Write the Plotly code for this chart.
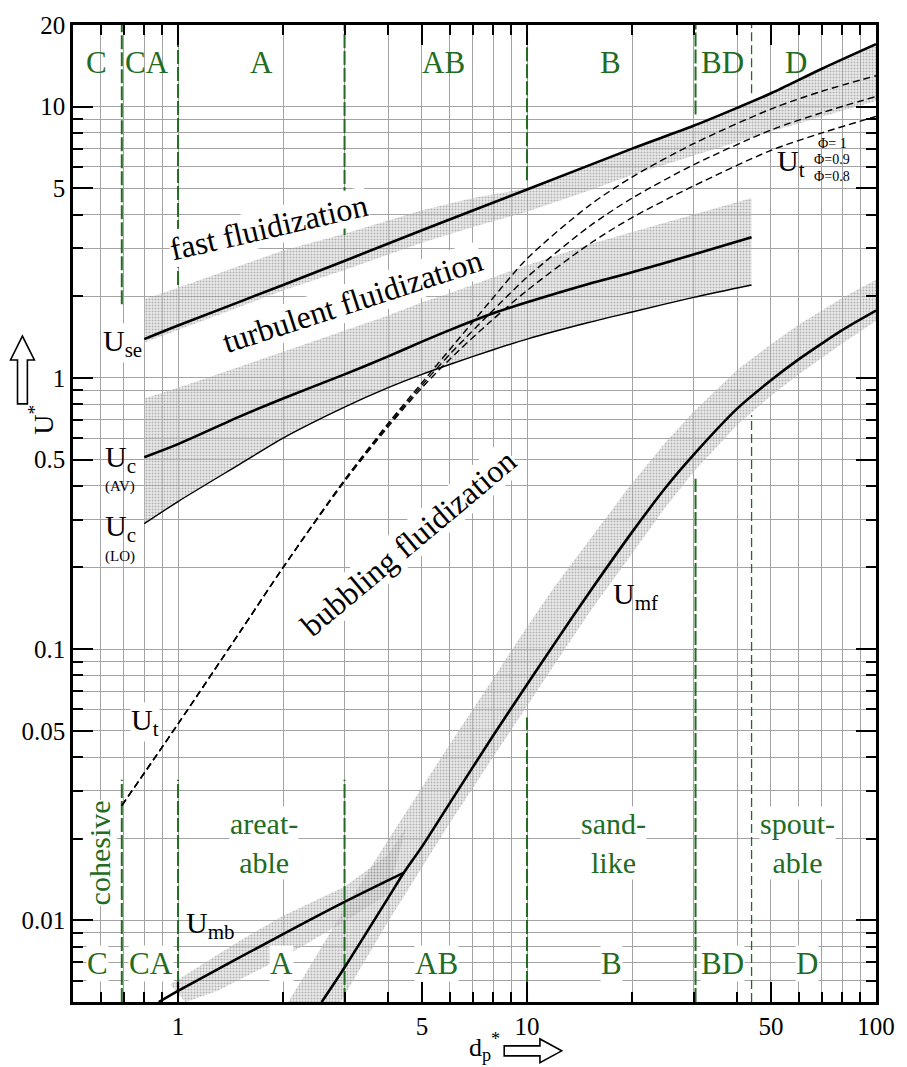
import math
import plotly.graph_objects as go

# ---------------- data ----------------
# fast-fluidization boundary U_se
use_x = [0.8, 1, 2, 5, 10, 20, 30, 40, 50, 70, 100]
use_y = [1.39, 1.56, 2.2, 3.5, 4.95, 7.0, 8.5, 9.9, 11.2, 13.8, 17.0]
use_band_up_x = [0.8, 1, 2, 3, 5, 7, 10, 20, 40, 100]
use_band_up = [1.95, 2.15, 2.95, 3.4, 4.15, 4.6, 5.0, 7.0, 9.9, 17.0]
use_band_lo_x = [0.8, 1, 2, 3, 5, 7, 10, 15, 20, 30, 40, 50, 70, 100]
use_band_lo = [1.35, 1.5, 2.1, 2.5, 3.15, 3.6, 4.1, 4.9, 5.6, 6.6, 7.4, 8.1, 9.2, 10.5]

# turbulent-fluidization onset U_c (average and lower bound) and band top
uc_x = [0.8, 1, 1.5, 2, 3, 4, 5, 6, 8, 10, 15, 20, 30, 44]
uc_av = [0.51, 0.57, 0.72, 0.84, 1.03, 1.2, 1.36, 1.5, 1.73, 1.9, 2.22, 2.45, 2.85, 3.3]
uc_lo = [0.29, 0.35, 0.48, 0.6, 0.78, 0.92, 1.03, 1.12, 1.27, 1.39, 1.6, 1.75, 1.98, 2.2]
uc_up = [0.84, 0.92, 1.1, 1.25, 1.5, 1.7, 1.9, 2.05, 2.35, 2.6, 3.1, 3.45, 4.0, 4.6]

# terminal velocity U_t for three sphericities
ut_x = [0.69, 1, 1.5, 2, 3, 4, 5, 6, 7.8, 10, 15, 20, 30, 50, 70, 100]
ut_phi1 = [0.0265, 0.053, 0.115, 0.2, 0.42, 0.68, 0.96, 1.27, 1.9, 2.75, 4.3, 5.5, 7.3, 9.8, 11.4, 13.0]
ut_phi09 = [0.0265, 0.053, 0.115, 0.2, 0.42, 0.67, 0.94, 1.22, 1.72, 2.35, 3.6, 4.6, 6.1, 8.2, 9.5, 10.9]
ut_phi08 = [0.0265, 0.053, 0.115, 0.2, 0.415, 0.66, 0.92, 1.17, 1.6, 2.1, 3.1, 3.9, 5.1, 6.9, 8.0, 9.2]

# minimum fluidization U_mf and its band
umf_x = [2.58, 3, 4, 4.44, 5, 6, 8, 10, 12, 15, 20, 25, 30, 40, 50, 60, 70, 80, 100]
umf_y = [0.005, 0.0067, 0.0121, 0.015, 0.0187, 0.027, 0.048, 0.074, 0.105, 0.16, 0.27, 0.395, 0.52, 0.77, 0.98, 1.17, 1.34, 1.5, 1.77]
umf_band_up_x = [2.07, 3, 4, 5, 6, 8, 10, 12, 15, 20, 25, 30, 40, 50, 60, 70, 80, 100]
umf_band_up = [0.005, 0.011, 0.0198, 0.031, 0.0445, 0.078, 0.121, 0.17, 0.25, 0.41, 0.58, 0.75, 1.07, 1.33, 1.57, 1.78, 1.97, 2.3]
umf_band_lo_x = [2.92, 4, 5, 6, 8, 10, 12, 15, 20, 25, 30, 40, 50, 60, 70, 80, 100]
umf_band_lo = [0.005, 0.0099, 0.0157, 0.0228, 0.04, 0.062, 0.088, 0.135, 0.225, 0.335, 0.45, 0.67, 0.86, 1.03, 1.19, 1.34, 1.62]

# minimum bubbling U_mb and its band
umb_x = [0.88, 1, 2, 3, 4.44]
umb_y = [0.005, 0.0055, 0.0089, 0.0117, 0.015]
umb_band_up_x = [0.95, 1.5, 2, 3, 4.0, 4.5]
umb_band_up = [0.0058, 0.0084, 0.0104, 0.0133, 0.0175, 0.022]
umb_band_lo_x = [1.05, 1.3, 2, 3, 4.0]
umb_band_lo = [0.005, 0.0055, 0.0073, 0.0099, 0.0125]

# Geldart group boundaries (vertical dashed lines): x, end of top part, start of bottom part
bound_x = [0.69, 1.0, 3.0, 10.0, 30.4, 44.0]
bound_top_end = [1.87, 2.2, 3.36, 5.35, 9.35, 11.2]
bound_bot_start = [0.033, 0.033, 0.033, 0.056, 0.425, 0.73]

group_names = ["C", "CA", "A", "AB", "B", "BD", "D"]

x_tick_vals = [1, 5, 10, 50, 100]
x_tick_text = ["1", "5", "10", "50", "100"]
y_tick_vals = [0.01, 0.05, 0.1, 0.5, 1, 5, 10, 20]
y_tick_text = ["0.01", "0.05", "0.1", "0.5", "1", "5", "10", "20"]

Y_MIN, Y_MAX = 0.005, 20
X_MIN, X_MAX = 0.5, 100

# ---------------- figure ----------------
GREEN = "#226b22"
SERIF = "Liberation Serif"
fig = go.Figure()

def band(xu, yu, xl, yl):
    fig.add_trace(go.Scatter(
        x=list(xu) + list(xl)[::-1], y=list(yu) + list(yl)[::-1],
        mode="lines", fill="toself", line=dict(width=0),
        fillcolor="rgba(170,170,170,0.35)",
        fillpattern=dict(shape=".", fgcolor="#777777", fgopacity=0.5,
                         bgcolor="rgba(212,212,212,0.45)", size=3, solidity=0.35),
        hoverinfo="skip", showlegend=False))

band(use_band_up_x, use_band_up, use_band_lo_x, use_band_lo)
band(uc_x, uc_up, uc_x, uc_lo)
band(umf_band_up_x, umf_band_up, umf_band_lo_x, umf_band_lo)
band(umb_band_up_x, umb_band_up, umb_band_lo_x, umb_band_lo)

# group boundary lines
for i, bx in enumerate(bound_x):
    thin = i == len(bound_x) - 1
    style = dict(color=GREEN, width=1.3 if thin else 2, dash="9px,4px" if thin else "14px,3px")
    fig.add_trace(go.Scatter(x=[bx, bx], y=[bound_top_end[i], Y_MAX], mode="lines",
                             line=style, hoverinfo="skip", showlegend=False))
    fig.add_trace(go.Scatter(x=[bx, bx], y=[Y_MIN, bound_bot_start[i]], mode="lines",
                             line=style, hoverinfo="skip", showlegend=False))

def curve(x, y, width=2.6, dash=None):
    fig.add_trace(go.Scatter(x=x, y=y, mode="lines",
                             line=dict(color="black", width=width, dash=dash, shape="spline", smoothing=0.8),
                             hoverinfo="skip", showlegend=False))

for uy in (ut_phi1, ut_phi09, ut_phi08):
    curve(ut_x, uy, width=1.4, dash="7px,4px")
curve(use_x, use_y)
curve(uc_x, uc_av)
curve(uc_x, uc_lo, width=1.4)
curve(umf_x, umf_y)
curve(umb_x, umb_y)

# ---------------- annotations ----------------
def lg(v):
    return math.log10(v)

def note(x, y, text, size=30, color="black", angle=0, bg="white", family=SERIF):
    fig.add_annotation(x=x, y=y, text=text, showarrow=False, textangle=angle,
                       font=dict(family=family, size=size, color=color),
                       bgcolor=bg, borderpad=0)

note(0.261, 0.555, "fast fluidization", size=32, angle=-13)
note(0.50, 0.283, "turbulent fluidization", size=32, angle=-18)
note(0.66, -0.61, "bubbling fluidization", size=32, angle=-40)

note(-0.159, 0.129, "U<sub>se</sub>")
note(-0.165, -0.298, "U<sub>c</sub>", bg=None)
note(-0.165, -0.401, "(AV)", size=15, bg=None)
note(-0.165, -0.555, "U<sub>c</sub>", bg=None)
note(-0.165, -0.658, "(LO)", size=15, bg=None)
note(-0.094, -1.268, "U<sub>t</sub>")
note(0.094, -2.018, "U<sub>mb</sub>", bg=None)
note(1.312, -0.805, "U<sub>mf</sub>", bg=None)
note(1.756, 0.794, "U<sub>t</sub>", bg=None)
note(1.874, 0.864, "Φ= 1", size=14, bg=None)
note(1.874, 0.805, "Φ=0.9", size=14, bg=None)
note(1.874, 0.743, "Φ=0.8", size=14, bg=None)

top_x = [-0.233, -0.088, 0.239, 0.761, 1.239, 1.560, 1.770]
bot_x = [-0.230, -0.077, 0.295, 0.741, 1.241, 1.560, 1.801]
for name, tx, bxp in zip(group_names, top_x, bot_x):
    note(tx, 1.162, name, size=31, color=GREEN, bg=None)
    note(bxp, -2.158, name, size=31, color=GREEN)

note(0.247, -1.713, "areat-<br>able", size=30, color=GREEN)
note(1.247, -1.713, "sand-<br>like", size=30, color=GREEN)
note(1.776, -1.713, "spout-<br>able", size=30, color=GREEN)
note(-0.224, -1.75, "cohesive", size=30, color=GREEN, angle=-90)

# axis titles with hollow arrows (paper coordinates)
L, R, T, B = 73, 883, 22, 1002
def px(x):
    return (x - L) / (R - L)
def py(y):
    return (B - y) / (B - T)

fig.add_annotation(x=px(488), y=py(1027), xref="paper", yref="paper", yanchor="top",
                   text="d<sub>p</sub><sup>*</sup>",
                   showarrow=False, font=dict(family=SERIF, size=26, color="black"))
fig.add_annotation(x=px(22), y=py(418), xref="paper", yref="paper", text="U<sup>*</sup>",
                   showarrow=False, textangle=-90, font=dict(family=SERIF, size=28, color="black"))

def arrow_path(pts):
    return "M " + " L ".join(f"{px(a):.4f},{py(b):.4f}" for a, b in pts) + " Z"

fig.add_shape(type="path", xref="paper", yref="paper",
              path=arrow_path([(508, 1046), (544, 1046), (544, 1039), (566, 1051),
                               (544, 1063), (544, 1056), (508, 1056)]),
              line=dict(color="black", width=1.6), fillcolor="white")
fig.add_shape(type="path", xref="paper", yref="paper",
              path=arrow_path([(17, 402), (17, 358), (10, 358), (22, 334),
                               (34, 358), (27, 358), (27, 402)]),
              line=dict(color="black", width=1.6), fillcolor="white")

# ---------------- axes ----------------
x_minor = [0.6, 0.7, 0.8, 0.9, 2, 3, 4, 6, 7, 8, 9, 20, 30, 40, 60, 70, 80, 90]
y_minor = [0.006, 0.007, 0.008, 0.009, 0.02, 0.03, 0.04, 0.06, 0.07, 0.08, 0.09,
           0.2, 0.3, 0.4, 0.6, 0.7, 0.8, 0.9, 2, 3, 4, 6, 7, 8, 9]
grid = "#a3a3a3"
common = dict(type="log", ticks="inside", ticklen=20, tickwidth=2, tickcolor="black",
              showline=True, linewidth=2.5, linecolor="black", mirror="allticks",
              showgrid=True, gridcolor=grid, gridwidth=1, zeroline=False,
              tickfont=dict(family=SERIF, size=25, color="black"))
fig.update_xaxes(range=[lg(X_MIN), lg(X_MAX)], tickmode="array", tickvals=x_tick_vals,
                 ticktext=x_tick_text,
                 minor=dict(tickmode="array", tickvals=x_minor, ticks="inside", ticklen=10,
                            tickwidth=2, tickcolor="black", showgrid=True, gridcolor=grid, gridwidth=1),
                 **common)
fig.update_yaxes(range=[lg(Y_MIN), lg(Y_MAX)], tickmode="array", tickvals=y_tick_vals,
                 ticktext=y_tick_text,
                 minor=dict(tickmode="array", tickvals=y_minor, ticks="inside", ticklen=10,
                            tickwidth=2, tickcolor="black", showgrid=True, gridcolor=grid, gridwidth=1),
                 **common)

fig.update_layout(width=907, height=1067, margin=dict(l=L, r=907 - R, t=T, b=1067 - B),
                  paper_bgcolor="white", plot_bgcolor="white", showlegend=False)

fig.write_html("out.html")
